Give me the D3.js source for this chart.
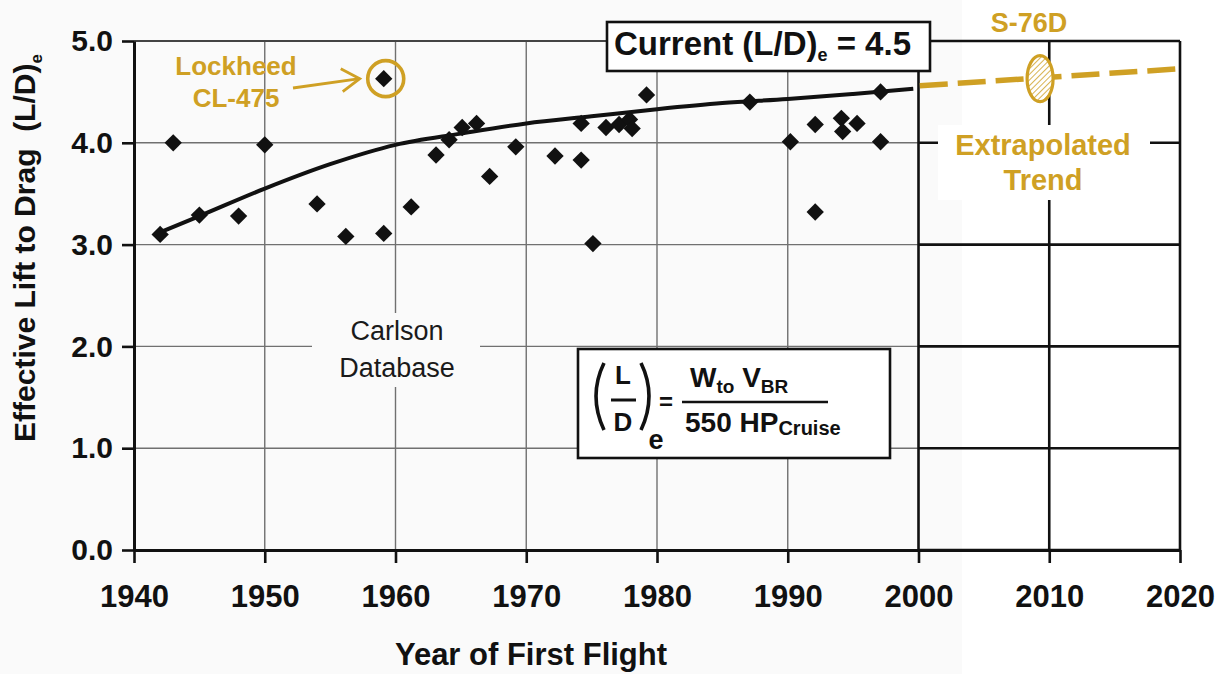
<!DOCTYPE html>
<html lang="en">

<head>
    <meta charset="UTF-8">
    <title>Effective Lift to Drag</title>
    <script type="text/javascript" src="https://cdnjs.cloudflare.com/ajax/libs/d3/7.8.5/d3.min.js"></script>
    <style>
        body { margin: 0; background: #fafafa; }
        text { font-family: "Liberation Sans", Arial, sans-serif; }
    </style>
</head>

<body>

    <div id="displayhere"></div>

    <script>
        // Carlson database points (year of first flight, effective L/D)
        var years = [1942, 1943, 1945, 1948, 1950, 1954, 1956.2, 1959.1, 1959.1, 1961.2,
            1963.1, 1964.1, 1965.1, 1966.2, 1967.2, 1969.2, 1972.2, 1974.2, 1974.2, 1975.1,
            1976.1, 1977.1, 1977.9, 1978.1, 1979.2, 1987.1, 1990.2, 1992.1, 1992.1, 1994.1,
            1994.2, 1995.3, 1997.1, 1997.1];
        var ldValues = [3.1, 4.0, 3.29, 3.28, 3.98, 3.4, 3.08, 3.11, 4.63, 3.37,
            3.88, 4.03, 4.15, 4.19, 3.67, 3.96, 3.87, 4.19, 3.83, 3.01,
            4.15, 4.18, 4.23, 4.14, 4.47, 4.4, 4.01, 4.18, 3.32, 4.24,
            4.11, 4.19, 4.5, 4.01];

        // fitted trend curve
        var trendYears = [1942, 1945, 1950, 1955, 1960, 1965, 1970, 1975, 1980, 1985, 1990, 1995, 1999.6];
        var trendValues = [3.12, 3.28, 3.55, 3.79, 3.98, 4.09, 4.19, 4.26, 4.33, 4.39, 4.43, 4.48, 4.53];

        // extrapolated trend (dashed)
        var extrapYears = [2000.1, 2020.3];
        var extrapValues = [4.56, 4.73];

        // highlighted aircraft
        var lockheedYear = 1959.1, lockheedValue = 4.63;
        var s76dYear = 2009.3, s76dValue = 4.63;

        var xTicks = [1940, 1950, 1960, 1970, 1980, 1990, 2000, 2010, 2020];
        var yTicks = [0, 1, 2, 3, 4, 5];

        var w = 1228;
        var h = 674;
        var gold = "#cfa024";

        var svg = d3.select('#displayhere')
            .append("svg")
            .attr("width", w)
            .attr("height", h);

        var x = d3.scaleLinear().domain([1940, 2020]).range([134, 1180]);
        var y = d3.scaleLinear().domain([0, 5]).range([550, 41]);

        // hatch pattern for the S-76D ellipse
        var defs = svg.append("defs");
        var pat = defs.append("pattern")
            .attr("id", "hatch")
            .attr("patternUnits", "userSpaceOnUse")
            .attr("width", 4)
            .attr("height", 4)
            .attr("patternTransform", "rotate(45)");
        pat.append("rect").attr("width", 4).attr("height", 4).attr("fill", "#fff");
        pat.append("line").attr("x1", 0).attr("y1", 0).attr("x2", 0).attr("y2", 4)
            .attr("stroke", gold).attr("stroke-width", 1.6);

        // right part of the picture is pure white
        svg.append("rect").attr("x", 962).attr("y", 0).attr("width", w - 962).attr("height", h).attr("fill", "#fff");

        drawGrid();
        drawAxes();
        drawLabels();
        drawTrend();
        drawPoints();
        drawAnnotations();
        drawFormula();

        function drawGrid() {
            var g = svg.append("g");
            // original chart: thin grey grid 1940-2000
            g.selectAll(".vg").data(xTicks.filter(function(d) { return d > 1940 && d < 2000; }))
                .enter().append("line")
                .attr("x1", function(d) { return x(d); }).attr("x2", function(d) { return x(d); })
                .attr("y1", y(0)).attr("y2", y(5))
                .attr("stroke", "#707070").attr("stroke-width", 1.4);
            g.selectAll(".hg").data(yTicks.filter(function(d) { return d > 0; }))
                .enter().append("line")
                .attr("x1", x(1940)).attr("x2", x(2000))
                .attr("y1", function(d) { return y(d); }).attr("y2", function(d) { return y(d); })
                .attr("stroke", function(d) { return d == 5 ? "#444" : "#707070"; })
                .attr("stroke-width", function(d) { return d == 5 ? 2 : 1.4; });

            // added extension 2000-2020: black grid
            g.selectAll(".vr").data(xTicks.filter(function(d) { return d >= 2000; }))
                .enter().append("line")
                .attr("x1", function(d) { return x(d); }).attr("x2", function(d) { return x(d); })
                .attr("y1", y(0)).attr("y2", y(5))
                .attr("stroke", "#111").attr("stroke-width", 2.6);
            g.selectAll(".hr").data(yTicks)
                .enter().append("line")
                .attr("x1", x(2000)).attr("x2", x(2020))
                .attr("y1", function(d) { return y(d); }).attr("y2", function(d) { return y(d); })
                .attr("stroke", "#111").attr("stroke-width", 2.6);
        }

        function drawAxes() {
            var xAxis = d3.axisBottom(x).tickValues(xTicks).tickFormat(d3.format("d"))
                .tickSizeInner(13).tickSizeOuter(0).tickPadding(22);
            var gx = svg.append("g").attr("transform", "translate(0," + y(0) + ")").call(xAxis);
            gx.select(".domain").attr("stroke", "#111").attr("stroke-width", 3);
            gx.selectAll(".tick line").attr("stroke", "#111").attr("stroke-width", 2.6);
            gx.selectAll(".tick text").attr("font-size", 31).attr("font-weight", "bold")
                .attr("fill", "#111").attr("font-family", "Liberation Sans, Arial, sans-serif");

            var yAxis = d3.axisLeft(y).tickValues(yTicks).tickFormat(d3.format(".1f"))
                .tickSizeInner(12).tickSizeOuter(0).tickPadding(9);
            var gy = svg.append("g").attr("transform", "translate(" + x(1940) + ",0)").call(yAxis);
            gy.select(".domain").attr("stroke", "#111").attr("stroke-width", 3);
            gy.selectAll(".tick line").attr("stroke", "#111").attr("stroke-width", 2.6);
            gy.selectAll(".tick text").attr("font-size", 30).attr("font-weight", "bold")
                .attr("fill", "#111").attr("font-family", "Liberation Sans, Arial, sans-serif");
        }

        function drawLabels() {
            var yt = svg.append("text")
                .attr("transform", "translate(35,248) rotate(-90)")
                .attr("text-anchor", "middle")
                .attr("font-size", 30).attr("font-weight", "bold").attr("fill", "#111")
                .style("white-space", "pre");
            yt.append("tspan").text("Effective Lift to Drag  (L/D)");
            yt.append("tspan").attr("font-size", 17).attr("dy", 7).text("e");

            svg.append("text")
                .attr("x", 531).attr("y", 665)
                .attr("text-anchor", "middle")
                .attr("font-size", 31).attr("font-weight", "bold").attr("fill", "#111")
                .text("Year of First Flight");
        }

        function drawTrend() {
            var line = d3.line()
                .x(function(d) { return x(d[0]); })
                .y(function(d) { return y(d[1]); })
                .curve(d3.curveMonotoneX);

            svg.append("path")
                .datum(d3.zip(trendYears, trendValues))
                .attr("d", line)
                .attr("fill", "none").attr("stroke", "#111").attr("stroke-width", 4);

            svg.append("path")
                .datum(d3.zip(extrapYears, extrapValues))
                .attr("d", line)
                .attr("fill", "none").attr("stroke", gold).attr("stroke-width", 5.5)
                .attr("stroke-dasharray", "28,10");
        }

        function drawPoints() {
            var diamond = d3.symbol().type(d3.symbolSquare).size(150);
            svg.append("g").selectAll("path")
                .data(d3.zip(years, ldValues))
                .enter().append("path")
                .attr("d", diamond)
                .attr("transform", function(d) {
                    return "translate(" + x(d[0]) + "," + y(d[1]) + ") rotate(45)";
                })
                .attr("fill", "#111");
        }

        function drawAnnotations() {
            // Lockheed CL-475
            var lx = x(lockheedYear), ly = y(lockheedValue);
            svg.append("circle").attr("cx", lx + 2).attr("cy", ly).attr("r", 18)
                .attr("fill", "none").attr("stroke", gold).attr("stroke-width", 3.6);
            svg.append("line").attr("x1", 293).attr("y1", 88).attr("x2", lx - 24).attr("y2", ly)
                .attr("stroke", gold).attr("stroke-width", 2.8);
            svg.append("polyline")
                .attr("points", (lx - 43) + "," + (ly - 10) + " " + (lx - 24) + "," + ly + " " + (lx - 41) + "," + (ly + 13))
                .attr("fill", "none").attr("stroke", gold).attr("stroke-width", 2.8);
            var lt = svg.append("text").attr("text-anchor", "middle")
                .attr("font-size", 26).attr("font-weight", "bold").attr("fill", gold);
            lt.append("tspan").attr("x", 236).attr("y", 75).text("Lockheed");
            lt.append("tspan").attr("x", 236).attr("y", 107).text("CL-475");

            // S-76D
            svg.append("ellipse").attr("cx", x(s76dYear)).attr("cy", y(s76dValue))
                .attr("rx", 13).attr("ry", 23)
                .attr("fill", "url(#hatch)").attr("stroke", gold).attr("stroke-width", 3.2);
            svg.append("text").attr("x", 1029).attr("y", 32).attr("text-anchor", "middle")
                .attr("font-size", 27).attr("font-weight", "bold").attr("fill", gold)
                .text("S-76D");

            // Extrapolated Trend
            svg.append("rect").attr("x", 938).attr("y", 125).attr("width", 212).attr("height", 75).attr("fill", "#fff");
            var et = svg.append("text").attr("text-anchor", "middle")
                .attr("font-size", 29).attr("font-weight", "bold").attr("fill", gold);
            et.append("tspan").attr("x", 1043).attr("y", 155).text("Extrapolated");
            et.append("tspan").attr("x", 1043).attr("y", 190).text("Trend");

            // Carlson Database
            svg.append("rect").attr("x", 312).attr("y", 313).attr("width", 168).attr("height", 74).attr("fill", "#fafafa");
            var ct = svg.append("text").attr("text-anchor", "middle")
                .attr("font-size", 27).attr("fill", "#1a1a1a");
            ct.append("tspan").attr("x", 397).attr("y", 340).text("Carlson");
            ct.append("tspan").attr("x", 397).attr("y", 377).text("Database");

            // Current (L/D)e box
            svg.append("rect").attr("x", 607).attr("y", 22).attr("width", 323).attr("height", 49)
                .attr("fill", "#fff").attr("stroke", "#111").attr("stroke-width", 2.6);
            var cur = svg.append("text").attr("x", 614).attr("y", 55)
                .attr("font-size", 33).attr("font-weight", "bold").attr("fill", "#111")
                .style("white-space", "pre");
            cur.append("tspan").text("Current (L/D)");
            cur.append("tspan").attr("font-size", 18).attr("dy", 6).text("e");
            cur.append("tspan").attr("dy", -6).text(" = 4.5");
        }

        function drawFormula() {
            var g = svg.append("g");
            g.append("rect").attr("x", 578).attr("y", 349).attr("width", 312).attr("height", 109)
                .attr("fill", "#fff").attr("stroke", "#111").attr("stroke-width", 2.6);

            // big parentheses
            g.append("path").attr("d", "M604,363 Q588,396 604,430")
                .attr("fill", "none").attr("stroke", "#111").attr("stroke-width", 3.6);
            g.append("path").attr("d", "M641,363 Q657,396 641,430")
                .attr("fill", "none").attr("stroke", "#111").attr("stroke-width", 3.6);

            function txt(s, tx, ty, anchor, size) {
                return g.append("text").attr("x", tx).attr("y", ty)
                    .attr("text-anchor", anchor)
                    .attr("font-size", size || 26)
                    .attr("font-weight", "bold").attr("fill", "#111")
                    .text(s);
            }
            txt("L", 623, 384, "middle");
            g.append("line").attr("x1", 611).attr("x2", 636).attr("y1", 400).attr("y2", 400)
                .attr("stroke", "#111").attr("stroke-width", 3);
            txt("D", 623, 431, "middle");
            txt("e", 656, 449, "middle", 27);
            txt("=", 666, 410, "middle", 24);

            var num = g.append("text").attr("x", 690).attr("y", 387)
                .attr("font-size", 28).attr("font-weight", "bold").attr("fill", "#111")
                .style("white-space", "pre");
            num.append("tspan").text("W");
            num.append("tspan").attr("font-size", 19).attr("dy", 6).text("to");
            num.append("tspan").attr("dy", -6).text(" V");
            num.append("tspan").attr("font-size", 19).attr("dy", 6).text("BR");

            g.append("line").attr("x1", 682).attr("x2", 828).attr("y1", 402).attr("y2", 402)
                .attr("stroke", "#111").attr("stroke-width", 2.6);

            var den = g.append("text").attr("x", 685).attr("y", 432)
                .attr("font-size", 28).attr("font-weight", "bold").attr("fill", "#111")
                .style("white-space", "pre");
            den.append("tspan").text("550 HP");
            den.append("tspan").attr("font-size", 20).attr("dy", 3).text("Cruise");
        }
    </script>

</body>

</html>
